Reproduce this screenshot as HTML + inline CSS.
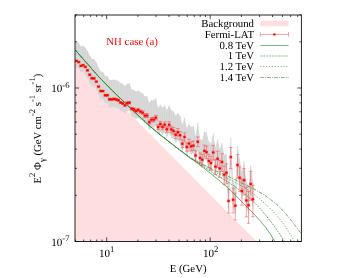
<!DOCTYPE html>
<html><head><meta charset="utf-8"><title>chart</title>
<style>html,body{margin:0;padding:0;background:#fff;}svg{display:block;}svg{will-change:transform;opacity:0.999;}text{font-family:"Liberation Serif",serif;text-rendering:geometricPrecision;}</style></head>
<body>
<svg width="354" height="278" viewBox="0 0 354 278">
<rect x="0" y="0" width="354" height="278" fill="#ffffff"/>
<defs><clipPath id="cp"><rect x="75.0" y="15.0" width="226.4" height="226.5"/></clipPath></defs>
<g clip-path="url(#cp)">
<polygon points="75.0,58.3 256.5,241.5 75.0,241.5" fill="#ffdee0"/>
<polygon points="75.0,42.9 76.5,41.6 78.7,42.8 80.9,46.6 83.1,45.8 85.3,47.6 87.5,51.0 89.7,55.4 91.9,59.0 94.1,59.1 96.3,62.3 98.5,67.3 100.8,71.7 103.0,71.8 105.2,76.0 107.4,76.0 109.6,80.0 111.8,80.1 114.0,79.6 116.2,80.2 118.4,80.9 120.6,83.2 122.8,84.1 125.0,86.1 127.2,83.7 129.4,83.5 131.6,89.3 133.8,90.0 136.0,91.6 138.2,90.6 140.4,92.3 142.7,93.3 144.9,96.3 147.1,96.3 149.3,102.8 151.5,100.3 153.7,100.3 155.9,98.4 158.1,107.7 160.3,104.7 162.5,107.7 164.7,105.4 166.9,110.0 169.1,105.5 171.3,110.2 173.5,111.6 175.7,115.5 177.9,112.9 180.1,116.0 182.3,124.5 184.5,117.7 186.8,127.7 189.0,124.3 191.2,127.0 193.4,126.3 195.6,136.2 197.8,122.5 200.0,138.7 202.2,140.4 204.4,131.6 206.6,132.8 208.8,141.6 211.0,143.7 213.2,133.1 215.4,147.3 217.6,139.5 219.8,149.1 222.0,142.7 224.2,155.3 226.4,153.5 228.6,181.6 230.8,137.8 233.1,180.4 235.3,186.4 237.5,145.7 239.7,158.5 241.9,171.7 244.1,160.9 246.3,181.2 248.5,185.9 250.7,164.6 252.9,180.0 253.9,199.3 253.9,199.3 252.9,207.3 250.7,191.9 248.5,213.2 246.3,208.5 244.1,188.2 241.9,199.0 239.7,185.8 237.5,173.0 235.3,213.7 233.1,207.7 230.8,165.1 228.6,208.9 226.4,180.8 224.2,182.6 222.0,170.0 219.8,176.4 217.6,166.8 215.4,174.6 213.2,160.4 211.0,171.0 208.8,168.9 206.6,160.1 204.4,158.9 202.2,167.7 200.0,166.0 197.8,149.8 195.6,163.5 193.4,153.6 191.2,154.3 189.0,151.6 186.8,155.0 184.5,145.0 182.3,151.8 180.1,143.3 177.9,140.2 175.7,142.8 173.5,138.9 171.3,137.5 169.1,132.8 166.9,137.3 164.7,132.7 162.5,135.0 160.3,132.0 158.1,135.0 155.9,125.7 153.7,127.6 151.5,127.6 149.3,130.1 147.1,123.6 144.9,123.6 142.7,120.6 140.4,119.6 138.2,117.9 136.0,118.9 133.8,117.3 131.6,116.6 129.4,110.8 127.2,111.0 125.0,113.4 122.8,111.4 120.6,110.5 118.4,108.2 116.2,107.5 114.0,106.9 111.8,107.4 109.6,107.3 107.4,103.3 105.2,103.3 103.0,99.1 100.8,99.0 98.5,94.6 96.3,89.6 94.1,86.4 91.9,86.3 89.7,82.7 87.5,78.3 85.3,74.9 83.1,71.6 80.9,72.4 78.7,68.6 76.5,67.4 75.0,66.7" fill="#dadada"/>
<path d="M76.50 41.6V67.4M78.70 42.8V68.6M80.91 46.6V72.4M83.11 45.8V71.6M85.32 47.6V74.9M87.53 51.0V78.3M89.73 55.4V82.7M91.94 59.0V86.3M94.14 59.1V86.4M96.34 62.3V89.6M98.55 67.3V94.6M100.75 71.7V99.0M102.96 71.8V99.1M105.16 76.0V103.3M107.37 76.0V103.3M109.58 80.0V107.3M111.78 80.1V107.4M113.98 79.6V106.9M116.19 80.2V107.5M118.40 80.9V108.2M120.60 83.2V110.5M122.81 84.1V111.4M125.01 86.1V113.4M127.22 83.7V111.0M129.42 83.5V110.8M131.62 89.3V116.6M133.83 90.0V117.3M136.03 91.6V118.9M138.24 90.6V117.9M140.44 92.3V119.6M142.65 93.3V120.6M144.86 96.3V123.6M147.06 96.3V123.6M149.26 102.8V130.1M151.47 100.3V127.6M153.68 100.3V127.6M155.88 98.4V125.7M158.09 107.7V135.0M160.29 104.7V132.0M162.50 107.7V135.0M164.70 105.4V132.7M166.91 110.0V137.3M169.11 105.5V132.8M171.31 110.2V137.5M173.52 111.6V138.9M175.73 115.5V142.8M177.93 112.9V140.2M180.13 116.0V143.3M182.34 124.5V151.8M184.55 117.7V145.0M186.75 127.7V155.0M188.95 124.3V151.6M191.16 127.0V154.3M193.37 126.3V153.6M195.57 136.2V163.5M197.78 122.5V149.8M199.98 138.7V166.0M202.19 140.4V167.7M204.39 131.6V158.9M206.59 132.8V160.1M208.80 141.6V168.9M211.00 143.7V171.0M213.21 133.1V160.4M215.41 147.3V174.6M217.62 139.5V166.8M219.83 149.1V176.4M222.03 142.7V170.0M224.24 155.3V182.6M226.44 153.5V180.8M228.65 181.6V208.9M230.85 137.8V165.1M233.06 180.4V207.7M235.26 186.4V213.7M237.47 145.7V173.0M239.67 158.5V185.8M241.88 171.7V199.0M244.08 160.9V188.2M246.28 181.2V208.5M248.49 185.9V213.2M250.69 164.6V191.9M252.90 180.0V207.3" stroke="#d0d0d0" stroke-width="0.65" fill="none"/>
<path d="M75.4 50.0 L80.0 55.4 L85.1 61.2 L87.6 64.0 L98.0 76.0 L108.0 86.2 L115.0 93.2 L126.2 104.0 L130.9 108.6 L150.0 126.3 L161.0 135.4 L175.0 146.4 L190.0 157.8 L200.0 164.4 L215.0 174.2 L228.0 182.0 L236.0 187.4 L245.0 194.2 L250.0 198.4 L255.0 203.2 L261.5 210.2 L266.0 215.6 L270.0 220.6 L274.2 226.2 L278.0 231.6 L281.5 236.8 L284.5 241.5" stroke="#2a882a" stroke-width="0.70" fill="none" stroke-dasharray="1.8 1.1"/>
<path d="M75.4 50.0 L80.0 55.4 L85.1 61.2 L87.6 64.0 L98.0 76.0 L108.0 86.2 L115.0 93.2 L126.2 104.0 L130.9 108.6 L150.0 126.3 L161.0 135.4 L175.0 146.4 L190.0 157.6 L200.0 163.6 L215.0 172.2 L228.0 178.5 L236.0 182.8 L245.0 188.0 L255.0 195.0 L262.0 201.0 L268.0 206.4 L272.0 210.4 L276.0 214.6 L281.0 220.6 L285.3 226.4 L290.0 233.6 L294.5 241.5" stroke="#2a882a" stroke-width="0.70" fill="none" stroke-dasharray="1.1 1.8"/>
<path d="M75.4 50.0 L80.0 55.4 L85.1 61.2 L87.6 64.0 L98.0 76.0 L108.0 86.2 L115.0 93.2 L126.2 104.0 L130.9 108.6 L150.0 126.3 L161.0 135.4 L175.0 146.4 L190.0 157.4 L200.0 163.0 L215.0 170.6 L228.0 176.2 L236.0 180.2 L245.0 184.6 L255.0 189.6 L264.0 194.8 L271.0 199.8 L278.0 205.6 L281.6 209.2 L285.5 213.6 L291.7 221.0 L295.6 226.2 L301.4 233.7" stroke="#2a882a" stroke-width="0.70" fill="none" stroke-dasharray="3.6 1.2 0.9 1.2"/>
<path d="M75.4 50.0 L80.0 55.4 L85.1 61.2 L87.6 64.0 L98.0 76.0 L108.0 86.2 L115.0 93.2 L126.2 104.0 L130.9 108.6 L150.0 126.3 L161.0 135.4 L175.0 146.4 L190.0 158.0 L196.0 162.0 L205.0 169.0 L215.0 177.0 L222.0 182.8 L228.0 187.8 L236.0 195.8 L243.5 203.5 L250.0 210.0 L255.0 215.2 L260.5 221.2 L265.8 227.6 L270.5 234.2 L274.8 241.5" stroke="#2a882a" stroke-width="0.70" fill="none"/>
<path d="M76.5 60.3V61.5M74.7 60.3H78.3M74.7 61.5H78.3M75.4 60.9H77.6M75.4 59.1V62.7M77.6 59.1V62.7M78.7 61.5V62.7M76.9 61.5H80.5M76.9 62.7H80.5M77.6 62.1H79.8M77.6 60.3V63.9M79.8 60.3V63.9M80.9 65.3V66.5M79.1 65.3H82.7M79.1 66.5H82.7M79.8 65.9H82.0M79.8 64.1V67.7M82.0 64.1V67.7M83.1 64.5V65.7M81.3 64.5H84.9M81.3 65.7H84.9M82.0 65.1H84.2M82.0 63.3V66.9M84.2 63.3V66.9M85.3 66.3V67.5M83.5 66.3H87.1M83.5 67.5H87.1M84.2 66.9H86.4M84.2 65.1V68.7M86.4 65.1V68.7M87.5 69.7V70.9M85.7 69.7H89.3M85.7 70.9H89.3M86.4 70.3H88.6M86.4 68.5V72.1M88.6 68.5V72.1M89.7 74.1V75.3M87.9 74.1H91.5M87.9 75.3H91.5M88.6 74.7H90.8M88.6 72.9V76.5M90.8 72.9V76.5M91.9 77.7V78.9M90.1 77.7H93.7M90.1 78.9H93.7M90.8 78.3H93.0M90.8 76.5V80.1M93.0 76.5V80.1M94.1 77.8V79.0M92.3 77.8H95.9M92.3 79.0H95.9M93.0 78.4H95.2M93.0 76.6V80.2M95.2 76.6V80.2M96.3 81.0V82.2M94.5 81.0H98.1M94.5 82.2H98.1M95.2 81.6H97.4M95.2 79.8V83.4M97.4 79.8V83.4M98.5 86.0V87.2M96.8 86.0H100.3M96.8 87.2H100.3M97.5 86.6H99.6M97.5 84.8V88.4M99.6 84.8V88.4M100.8 90.4V91.6M99.0 90.4H102.6M99.0 91.6H102.6M99.7 91.0H101.9M99.7 89.2V92.8M101.9 89.2V92.8M103.0 90.5V91.7M101.2 90.5H104.8M101.2 91.7H104.8M101.9 91.1H104.1M101.9 89.3V92.9M104.1 89.3V92.9M105.2 94.6V96.0M103.4 94.6H107.0M103.4 96.0H107.0M104.1 95.3H106.3M104.1 93.5V97.1M106.3 93.5V97.1M107.4 94.6V96.0M105.6 94.6H109.2M105.6 96.0H109.2M106.3 95.3H108.5M106.3 93.5V97.1M108.5 93.5V97.1M109.6 98.5V100.1M107.8 98.5H111.4M107.8 100.1H111.4M108.5 99.3H110.7M108.5 97.5V101.1M110.7 97.5V101.1M111.8 98.6V100.2M110.0 98.6H113.6M110.0 100.2H113.6M110.7 99.4H112.9M110.7 97.6V101.2M112.9 97.6V101.2M114.0 98.1V99.7M112.2 98.1H115.8M112.2 99.7H115.8M112.9 98.9H115.1M112.9 97.1V100.7M115.1 97.1V100.7M116.2 98.6V100.4M114.4 98.6H118.0M114.4 100.4H118.0M115.1 99.5H117.3M115.1 97.7V101.3M117.3 97.7V101.3M118.4 99.3V101.1M116.6 99.3H120.2M116.6 101.1H120.2M117.3 100.2H119.5M117.3 98.4V102.0M119.5 98.4V102.0M120.6 101.6V103.4M118.8 101.6H122.4M118.8 103.4H122.4M119.5 102.5H121.7M119.5 100.7V104.3M121.7 100.7V104.3M122.8 102.4V104.4M121.0 102.4H124.6M121.0 104.4H124.6M121.7 103.4H123.9M121.7 101.6V105.2M123.9 101.6V105.2M125.0 104.4V106.4M123.2 104.4H126.8M123.2 106.4H126.8M123.9 105.4H126.1M123.9 103.6V107.2M126.1 103.6V107.2M127.2 101.9V104.1M125.4 101.9H129.0M125.4 104.1H129.0M126.1 103.0H128.3M126.1 101.2V104.8M128.3 101.2V104.8M129.4 101.7V103.9M127.6 101.7H131.2M127.6 103.9H131.2M128.3 102.8H130.5M128.3 101.0V104.6M130.5 101.0V104.6M131.6 107.4V109.8M129.8 107.4H133.4M129.8 109.8H133.4M130.5 108.6H132.7M130.5 106.8V110.4M132.7 106.8V110.4M133.8 108.0V110.6M132.0 108.0H135.6M132.0 110.6H135.6M132.7 109.3H134.9M132.7 107.5V111.1M134.9 107.5V111.1M136.0 109.5V112.3M134.2 109.5H137.8M134.2 112.3H137.8M134.9 110.9H137.1M134.9 109.1V112.7M137.1 109.1V112.7M138.2 108.4V111.4M136.4 108.4H140.0M136.4 111.4H140.0M137.1 109.9H139.3M137.1 108.1V111.7M139.3 108.1V111.7M140.4 110.0V113.2M138.6 110.0H142.2M138.6 113.2H142.2M139.3 111.6H141.5M139.3 109.8V113.4M141.5 109.8V113.4M142.7 110.9V114.3M140.8 110.9H144.5M140.8 114.3H144.5M141.6 112.6H143.8M141.6 110.8V114.4M143.8 110.8V114.4M144.9 113.8V117.4M143.1 113.8H146.7M143.1 117.4H146.7M143.8 115.6H146.0M143.8 113.8V117.4M146.0 113.8V117.4M147.1 113.6V117.6M145.3 113.6H148.9M145.3 117.6H148.9M146.0 115.6H148.2M146.0 113.8V117.4M148.2 113.8V117.4M149.3 120.0V124.2M147.5 120.0H151.1M147.5 124.2H151.1M148.2 122.1H150.4M148.2 120.3V123.9M150.4 120.3V123.9M151.5 117.4V121.8M149.7 117.4H153.3M149.7 121.8H153.3M150.4 119.6H152.6M150.4 117.8V121.4M152.6 117.8V121.4M153.7 117.3V121.9M151.9 117.3H155.5M151.9 121.9H155.5M152.6 119.6H154.8M152.6 117.8V121.4M154.8 117.8V121.4M155.9 115.3V120.1M154.1 115.3H157.7M154.1 120.1H157.7M154.8 117.7H157.0M154.8 115.9V119.5M157.0 115.9V119.5M158.1 124.5V129.5M156.3 124.5H159.9M156.3 129.5H159.9M157.0 127.0H159.2M157.0 125.2V128.8M159.2 125.2V128.8M160.3 121.4V126.6M158.5 121.4H162.1M158.5 126.6H162.1M159.2 124.0H161.4M159.2 122.2V125.8M161.4 122.2V125.8M162.5 124.2V129.8M160.7 124.2H164.3M160.7 129.8H164.3M161.4 127.0H163.6M161.4 125.2V128.8M163.6 125.2V128.8M164.7 121.8V127.6M162.9 121.8H166.5M162.9 127.6H166.5M163.6 124.7H165.8M163.6 122.9V126.5M165.8 122.9V126.5M166.9 126.3V132.3M165.1 126.3H168.7M165.1 132.3H168.7M165.8 129.3H168.0M165.8 127.5V131.1M168.0 127.5V131.1M169.1 121.6V128.0M167.3 121.6H170.9M167.3 128.0H170.9M168.0 124.8H170.2M168.0 123.0V126.6M170.2 123.0V126.6M171.3 126.2V132.8M169.5 126.2H173.1M169.5 132.8H173.1M170.2 129.5H172.4M170.2 127.7V131.3M172.4 127.7V131.3M173.5 127.5V134.3M171.7 127.5H175.3M171.7 134.3H175.3M172.4 130.9H174.6M172.4 129.1V132.7M174.6 129.1V132.7M175.7 131.2V138.4M173.9 131.2H177.5M173.9 138.4H177.5M174.6 134.8H176.8M174.6 133.0V136.6M176.8 133.0V136.6M177.9 128.5V135.9M176.1 128.5H179.7M176.1 135.9H179.7M176.8 132.2H179.0M176.8 130.4V134.0M179.0 130.4V134.0M180.1 131.5V139.1M178.3 131.5H181.9M178.3 139.1H181.9M179.0 135.3H181.2M179.0 133.5V137.1M181.2 133.5V137.1M182.3 139.9V147.7M180.5 139.9H184.1M180.5 147.7H184.1M181.2 143.8H183.4M181.2 142.0V145.6M183.4 142.0V145.6M184.5 132.9V141.1M182.7 132.9H186.3M182.7 141.1H186.3M183.4 137.0H185.6M183.4 135.2V138.8M185.6 135.2V138.8M186.8 142.8V151.2M184.9 142.8H188.6M184.9 151.2H188.6M185.7 147.0H187.8M185.7 145.2V148.8M187.8 145.2V148.8M189.0 139.3V147.9M187.2 139.3H190.8M187.2 147.9H190.8M187.9 143.6H190.1M187.9 141.8V145.4M190.1 141.8V145.4M191.2 141.8V150.8M189.4 141.8H193.0M189.4 150.8H193.0M190.1 146.3H192.3M190.1 144.5V148.1M192.3 144.5V148.1M193.4 141.0V150.2M191.6 141.0H195.2M191.6 150.2H195.2M192.3 145.6H194.5M192.3 143.8V147.4M194.5 143.8V147.4M195.6 150.8V160.3M193.8 150.8H197.4M193.8 160.3H197.4M194.5 155.5H196.7M194.5 153.7V157.3M196.7 153.7V157.3M197.8 136.9V146.7M196.0 136.9H199.6M196.0 146.7H199.6M196.7 141.8H198.9M196.7 140.0V143.6M198.9 140.0V143.6M200.0 153.0V163.1M198.2 153.0H201.8M198.2 163.1H201.8M198.9 158.0H201.1M198.9 156.2V159.8M201.1 156.2V159.8M202.2 154.4V165.2M200.4 154.4H204.0M200.4 165.2H204.0M201.1 159.7H203.3M201.1 157.9V161.5M203.3 157.9V161.5M204.4 145.2V156.8M202.6 145.2H206.2M202.6 156.8H206.2M203.3 150.9H205.5M203.3 149.1V152.7M205.5 149.1V152.7M206.6 146.1V158.5M204.8 146.1H208.4M204.8 158.5H208.4M205.5 152.1H207.7M205.5 150.3V153.9M207.7 150.3V153.9M208.8 154.6V167.7M207.0 154.6H210.6M207.0 167.7H210.6M207.7 160.9H209.9M207.7 159.1V162.7M209.9 159.1V162.7M211.0 156.3V170.2M209.2 156.3H212.8M209.2 170.2H212.8M209.9 163.0H212.1M209.9 161.2V164.8M212.1 161.2V164.8M213.2 145.4V160.1M211.4 145.4H215.0M211.4 160.1H215.0M212.1 152.4H214.3M212.1 150.6V154.2M214.3 150.6V154.2M215.4 159.3V174.7M213.6 159.3H217.2M213.6 174.7H217.2M214.3 166.6H216.5M214.3 164.8V168.4M216.5 164.8V168.4M217.6 151.2V167.4M215.8 151.2H219.4M215.8 167.4H219.4M216.5 158.8H218.7M216.5 157.0V160.6M218.7 157.0V160.6M219.8 160.4V177.5M218.0 160.4H221.6M218.0 177.5H221.6M218.7 168.4H220.9M218.7 166.6V170.2M220.9 166.6V170.2M222.0 153.7V171.5M220.2 153.7H223.8M220.2 171.5H223.8M220.9 162.0H223.1M220.9 160.2V163.8M223.1 160.2V163.8M224.2 166.0V184.6M222.4 166.0H226.0M222.4 184.6H226.0M223.1 174.6H225.3M223.1 172.8V176.4M225.3 172.8V176.4M226.4 163.8V183.3M224.6 163.8H228.2M224.6 183.3H228.2M225.3 172.8H227.5M225.3 171.0V174.6M227.5 171.0V174.6M228.6 189.6V213.1M226.8 189.6H230.4M226.8 213.1H230.4M227.5 200.9H229.7M227.5 199.1V202.7M229.7 199.1V202.7M230.8 147.5V168.6M229.0 147.5H232.7M229.0 168.6H232.7M229.8 157.1H231.9M229.8 155.3V158.9M231.9 155.3V158.9M233.1 188.3V213.0M231.3 188.3H234.9M231.3 213.0H234.9M232.0 199.7H234.2M232.0 197.9V201.5M234.2 197.9V201.5M235.3 193.1V219.9M233.5 193.1H237.1M233.5 219.9H237.1M234.2 205.7H236.4M234.2 203.9V207.5M236.4 203.9V207.5M237.5 154.4V178.1M235.7 154.4H239.3M235.7 178.1H239.3M236.4 165.0H238.6M236.4 163.2V166.8M238.6 163.2V166.8M239.7 166.8V191.4M237.9 166.8H241.5M237.9 191.4H241.5M238.6 177.8H240.8M238.6 176.0V179.6M240.8 176.0V179.6M241.9 179.0V205.2M240.1 179.0H243.7M240.1 205.2H243.7M240.8 191.0H243.0M240.8 189.2V192.8M243.0 189.2V192.8M244.1 168.6V194.9M242.3 168.6H245.9M242.3 194.9H245.9M243.0 180.2H245.2M243.0 178.4V182.0M245.2 178.4V182.0M246.3 187.2V216.8M244.5 187.2H248.1M244.5 216.8H248.1M245.2 200.5H247.4M245.2 198.7V202.3M247.4 198.7V202.3M248.5 191.5V223.3M246.7 191.5H250.3M246.7 223.3H250.3M247.4 205.2H249.6M247.4 203.4V207.0M249.6 203.4V207.0M250.7 171.3V200.3M248.9 171.3H252.5M248.9 200.3H252.5M249.6 183.9H251.8M249.6 182.1V185.7M251.8 182.1V185.7M252.9 185.3V216.7M251.1 185.3H254.7M251.1 216.7H254.7M251.8 199.3H254.0M251.8 197.5V201.1M254.0 197.5V201.1" stroke="#ff3030" stroke-width="0.45" fill="none"/>
<circle cx="76.5" cy="60.9" r="1.2" fill="#ff0000"/>
<circle cx="78.7" cy="62.1" r="1.2" fill="#ff0000"/>
<circle cx="80.9" cy="65.9" r="1.2" fill="#ff0000"/>
<circle cx="83.1" cy="65.1" r="1.2" fill="#ff0000"/>
<circle cx="85.3" cy="66.9" r="1.2" fill="#ff0000"/>
<circle cx="87.5" cy="70.3" r="1.2" fill="#ff0000"/>
<circle cx="89.7" cy="74.7" r="1.2" fill="#ff0000"/>
<circle cx="91.9" cy="78.3" r="1.2" fill="#ff0000"/>
<circle cx="94.1" cy="78.4" r="1.2" fill="#ff0000"/>
<circle cx="96.3" cy="81.6" r="1.2" fill="#ff0000"/>
<circle cx="98.5" cy="86.6" r="1.2" fill="#ff0000"/>
<circle cx="100.8" cy="91.0" r="1.2" fill="#ff0000"/>
<circle cx="103.0" cy="91.1" r="1.2" fill="#ff0000"/>
<circle cx="105.2" cy="95.3" r="1.2" fill="#ff0000"/>
<circle cx="107.4" cy="95.3" r="1.2" fill="#ff0000"/>
<circle cx="109.6" cy="99.3" r="1.2" fill="#ff0000"/>
<circle cx="111.8" cy="99.4" r="1.2" fill="#ff0000"/>
<circle cx="114.0" cy="98.9" r="1.2" fill="#ff0000"/>
<circle cx="116.2" cy="99.5" r="1.2" fill="#ff0000"/>
<circle cx="118.4" cy="100.2" r="1.2" fill="#ff0000"/>
<circle cx="120.6" cy="102.5" r="1.2" fill="#ff0000"/>
<circle cx="122.8" cy="103.4" r="1.2" fill="#ff0000"/>
<circle cx="125.0" cy="105.4" r="1.2" fill="#ff0000"/>
<circle cx="127.2" cy="103.0" r="1.2" fill="#ff0000"/>
<circle cx="129.4" cy="102.8" r="1.2" fill="#ff0000"/>
<circle cx="131.6" cy="108.6" r="1.2" fill="#ff0000"/>
<circle cx="133.8" cy="109.3" r="1.2" fill="#ff0000"/>
<circle cx="136.0" cy="110.9" r="1.2" fill="#ff0000"/>
<circle cx="138.2" cy="109.9" r="1.2" fill="#ff0000"/>
<circle cx="140.4" cy="111.6" r="1.2" fill="#ff0000"/>
<circle cx="142.7" cy="112.6" r="1.2" fill="#ff0000"/>
<circle cx="144.9" cy="115.6" r="1.2" fill="#ff0000"/>
<circle cx="147.1" cy="115.6" r="1.2" fill="#ff0000"/>
<circle cx="149.3" cy="122.1" r="1.2" fill="#ff0000"/>
<circle cx="151.5" cy="119.6" r="1.2" fill="#ff0000"/>
<circle cx="153.7" cy="119.6" r="1.2" fill="#ff0000"/>
<circle cx="155.9" cy="117.7" r="1.2" fill="#ff0000"/>
<circle cx="158.1" cy="127.0" r="1.2" fill="#ff0000"/>
<circle cx="160.3" cy="124.0" r="1.2" fill="#ff0000"/>
<circle cx="162.5" cy="127.0" r="1.2" fill="#ff0000"/>
<circle cx="164.7" cy="124.7" r="1.2" fill="#ff0000"/>
<circle cx="166.9" cy="129.3" r="1.2" fill="#ff0000"/>
<circle cx="169.1" cy="124.8" r="1.2" fill="#ff0000"/>
<circle cx="171.3" cy="129.5" r="1.2" fill="#ff0000"/>
<circle cx="173.5" cy="130.9" r="1.2" fill="#ff0000"/>
<circle cx="175.7" cy="134.8" r="1.2" fill="#ff0000"/>
<circle cx="177.9" cy="132.2" r="1.2" fill="#ff0000"/>
<circle cx="180.1" cy="135.3" r="1.2" fill="#ff0000"/>
<circle cx="182.3" cy="143.8" r="1.2" fill="#ff0000"/>
<circle cx="184.5" cy="137.0" r="1.2" fill="#ff0000"/>
<circle cx="186.8" cy="147.0" r="1.2" fill="#ff0000"/>
<circle cx="189.0" cy="143.6" r="1.2" fill="#ff0000"/>
<circle cx="191.2" cy="146.3" r="1.2" fill="#ff0000"/>
<circle cx="193.4" cy="145.6" r="1.2" fill="#ff0000"/>
<circle cx="195.6" cy="155.5" r="1.2" fill="#ff0000"/>
<circle cx="197.8" cy="141.8" r="1.2" fill="#ff0000"/>
<circle cx="200.0" cy="158.0" r="1.2" fill="#ff0000"/>
<circle cx="202.2" cy="159.7" r="1.2" fill="#ff0000"/>
<circle cx="204.4" cy="150.9" r="1.2" fill="#ff0000"/>
<circle cx="206.6" cy="152.1" r="1.2" fill="#ff0000"/>
<circle cx="208.8" cy="160.9" r="1.2" fill="#ff0000"/>
<circle cx="211.0" cy="163.0" r="1.2" fill="#ff0000"/>
<circle cx="213.2" cy="152.4" r="1.2" fill="#ff0000"/>
<circle cx="215.4" cy="166.6" r="1.2" fill="#ff0000"/>
<circle cx="217.6" cy="158.8" r="1.2" fill="#ff0000"/>
<circle cx="219.8" cy="168.4" r="1.2" fill="#ff0000"/>
<circle cx="222.0" cy="162.0" r="1.2" fill="#ff0000"/>
<circle cx="224.2" cy="174.6" r="1.2" fill="#ff0000"/>
<circle cx="226.4" cy="172.8" r="1.2" fill="#ff0000"/>
<circle cx="228.6" cy="200.9" r="1.2" fill="#ff0000"/>
<circle cx="230.8" cy="157.1" r="1.2" fill="#ff0000"/>
<circle cx="233.1" cy="199.7" r="1.2" fill="#ff0000"/>
<circle cx="235.3" cy="205.7" r="1.2" fill="#ff0000"/>
<circle cx="237.5" cy="165.0" r="1.2" fill="#ff0000"/>
<circle cx="239.7" cy="177.8" r="1.2" fill="#ff0000"/>
<circle cx="241.9" cy="191.0" r="1.2" fill="#ff0000"/>
<circle cx="244.1" cy="180.2" r="1.2" fill="#ff0000"/>
<circle cx="246.3" cy="200.5" r="1.2" fill="#ff0000"/>
<circle cx="248.5" cy="205.2" r="1.2" fill="#ff0000"/>
<circle cx="250.7" cy="183.9" r="1.2" fill="#ff0000"/>
<circle cx="252.9" cy="199.3" r="1.2" fill="#ff0000"/>
</g>
<rect x="75.0" y="15.0" width="226.4" height="226.5" fill="none" stroke="#1c1c1c" stroke-width="0.95"/>
<path d="M75.5 241.5v-2.0M75.5 15.0v2.0M83.7 241.5v-2.0M83.7 15.0v2.0M90.7 241.5v-2.0M90.7 15.0v2.0M96.7 241.5v-2.0M96.7 15.0v2.0M102.0 241.5v-2.0M102.0 15.0v2.0M106.7 241.5v-4.1M106.7 15.0v4.1M137.9 241.5v-2.0M137.9 15.0v2.0M156.1 241.5v-2.0M156.1 15.0v2.0M169.0 241.5v-2.0M169.0 15.0v2.0M179.0 241.5v-2.0M179.0 15.0v2.0M187.2 241.5v-2.0M187.2 15.0v2.0M194.2 241.5v-2.0M194.2 15.0v2.0M200.2 241.5v-2.0M200.2 15.0v2.0M205.5 241.5v-2.0M205.5 15.0v2.0M210.2 241.5v-4.1M210.2 15.0v4.1M241.4 241.5v-2.0M241.4 15.0v2.0M259.6 241.5v-2.0M259.6 15.0v2.0M272.5 241.5v-2.0M272.5 15.0v2.0M282.5 241.5v-2.0M282.5 15.0v2.0M290.7 241.5v-2.0M290.7 15.0v2.0M297.7 241.5v-2.0M297.7 15.0v2.0M75.0 241.5h4.1M301.4 241.5h-4.1M75.0 195.3h2.0M301.4 195.3h-2.0M75.0 168.3h2.0M301.4 168.3h-2.0M75.0 149.1h2.0M301.4 149.1h-2.0M75.0 134.2h2.0M301.4 134.2h-2.0M75.0 122.1h2.0M301.4 122.1h-2.0M75.0 111.8h2.0M301.4 111.8h-2.0M75.0 102.9h2.0M301.4 102.9h-2.0M75.0 95.0h2.0M301.4 95.0h-2.0M75.0 88.0h4.1M301.4 88.0h-4.1M75.0 41.8h2.0M301.4 41.8h-2.0M75.0 14.8h2.0M301.4 14.8h-2.0" stroke="#000" stroke-width="0.7" fill="none"/>
<text x="51.2" y="92.4" font-size="11.10" fill="#000">10<tspan dy="-4.8" font-size="8.60">-6</tspan></text>
<text x="51.2" y="245.9" font-size="11.10" fill="#000">10<tspan dy="-4.8" font-size="8.60">-7</tspan></text>
<text x="98.9" y="256.7" font-size="11.10" fill="#000">10<tspan dy="-4.8" font-size="8.60">1</tspan></text>
<text x="203.0" y="256.7" font-size="11.10" fill="#000">10<tspan dy="-4.8" font-size="8.60">2</tspan></text>
<text x="188.1" y="271.6" font-size="10.80" text-anchor="middle" fill="#000">E (GeV)</text>
<text x="106.3" y="45.4" font-size="10.80" text-anchor="start" fill="#ff0000">NH case (a)</text>
<text transform="translate(41.1 183.5) rotate(-90)" font-size="10.75" fill="#000">E<tspan dy="-6.2" font-size="8.6">2</tspan><tspan dy="6.2"> Φ</tspan><tspan dy="3.4" font-size="8.6">γ</tspan><tspan dy="-3.4"> (GeV cm</tspan><tspan dy="-6.2" font-size="8.6">-2</tspan><tspan dy="6.2"> s</tspan><tspan dy="-6.2" font-size="8.6">-1</tspan><tspan dy="6.2"> sr</tspan><tspan dy="-6.2" font-size="8.6">-1</tspan><tspan dy="6.2">)</tspan></text>
<text x="254.0" y="27.1" font-size="10.80" text-anchor="end" fill="#000">Background</text>
<text x="254.0" y="37.8" font-size="10.80" text-anchor="end" fill="#000">Fermi-LAT</text>
<text x="254.0" y="48.5" font-size="10.80" text-anchor="end" fill="#000">0.8 TeV</text>
<text x="254.0" y="59.2" font-size="10.80" text-anchor="end" fill="#000">1 TeV</text>
<text x="254.0" y="70.0" font-size="10.80" text-anchor="end" fill="#000">1.2 TeV</text>
<text x="254.0" y="80.7" font-size="10.80" text-anchor="end" fill="#000">1.4 TeV</text>
<rect x="260.3" y="20.7" width="28.2" height="5.5" fill="#ffdee0"/>
<path d="M260.3 34.4H288.5M260.3 32.1v4.6M288.5 32.1v4.6" stroke="#ff3030" stroke-width="0.45" fill="none"/>
<circle cx="274.4" cy="34.4" r="1.2" fill="#ff0000"/>
<path d="M260.3 45.5H288.5" stroke="#2a882a" stroke-width="0.60"/>
<path d="M260.3 56H288.5" stroke="#2a882a" stroke-width="0.60" stroke-dasharray="1.8 1.1"/>
<path d="M260.3 66.5H288.5" stroke="#2a882a" stroke-width="0.60" stroke-dasharray="1.1 1.8"/>
<path d="M260.3 77.5H288.5" stroke="#2a882a" stroke-width="0.60" stroke-dasharray="3.6 1.2 0.9 1.2"/>
</svg>
</body></html>
